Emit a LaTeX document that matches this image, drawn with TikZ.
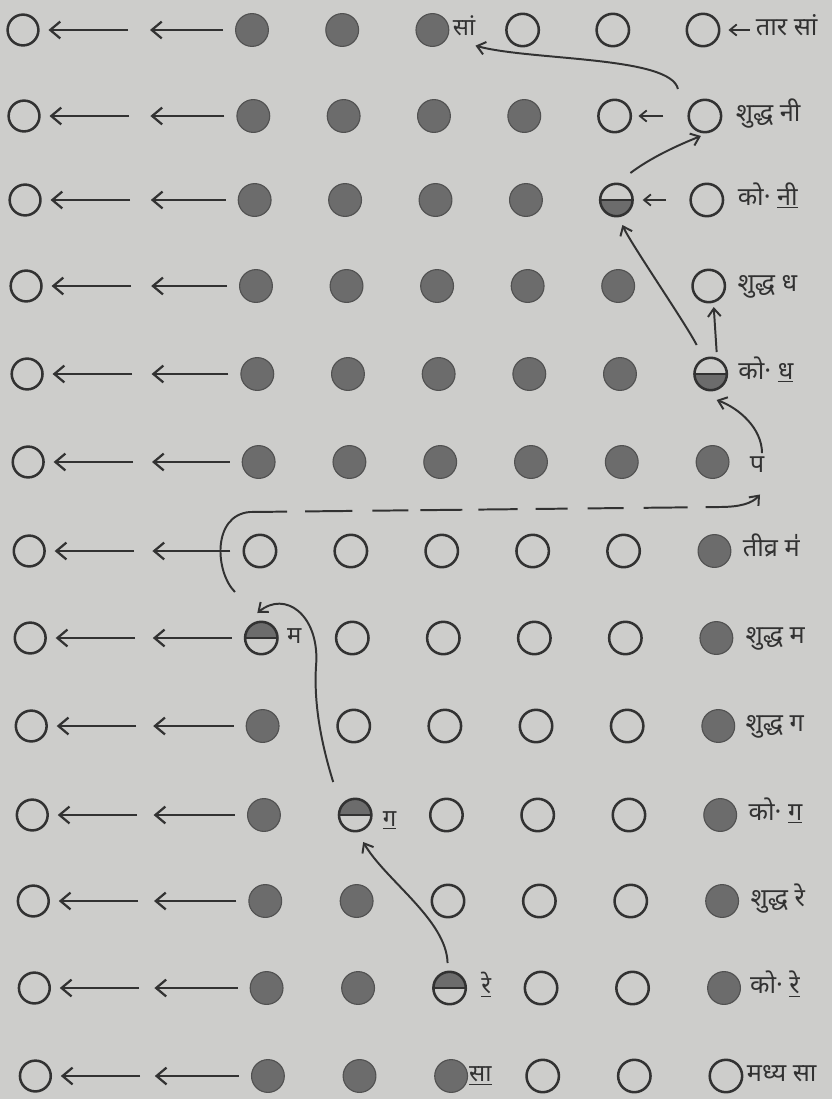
\documentclass[tikz,border=0pt]{standalone}
\usepackage{fontspec}
\newfontfamily\deva[Script=Devanagari]{Noto Sans}
\usetikzlibrary{arrows.meta, positioning, calc}
\definecolor{paper}{RGB}{205,205,203}
\definecolor{ink}{RGB}{50,50,50}
\definecolor{dotgray}{RGB}{108,108,108}

\begin{document}
\begin{tikzpicture}[
  x=0.025cm, y=-0.025cm,
  hole/.style={circle, draw=ink, line width=1.8pt, minimum size=0.81cm, inner sep=0pt},
  doto/.style={hole},
  dotf/.style={circle, draw=ink!85, fill=dotgray, line width=0.8pt, minimum size=0.82cm, inner sep=0pt},
  dotl/.style={hole, path picture={
      \fill[dotgray] (path picture bounding box.west) rectangle (path picture bounding box.south east);
      \draw[ink, line width=1pt] (path picture bounding box.west) -- (path picture bounding box.east);}},
  dotu/.style={hole, path picture={
      \fill[dotgray] (path picture bounding box.north west) rectangle (path picture bounding box.east);
      \draw[ink, line width=1.2pt] (path picture bounding box.west) -- (path picture bounding box.east);}},
  lbl/.style={font=\deva\fontsize{18}{21}\selectfont, text=ink, inner sep=0pt,
    text height=0.4cm, text depth=0.12cm},
  inlbl/.style={lbl, font=\deva\fontsize{17}{20}\selectfont},
  longarr/.style={-{Straight Barb[length=0.25cm, width=0.42cm]}, draw=ink, line width=1.6pt},
  sarr/.style={-{Straight Barb[length=0.17cm, width=0.28cm]}, draw=ink, line width=1.3pt},
  curvarr/.style={-{Straight Barb[length=0.2cm, width=0.32cm]}, draw=ink, line width=1.4pt},
  dasharr/.style={curvarr, dash pattern=on 3.4cm off 0.45cm on 1.18cm off 0.5cm on 0.9cm off 0.3cm
    on 1.05cm off 0.4cm on 0.98cm off 0.45cm on 0.8cm off 0.5cm on 0.9cm off 0.5cm
    on 1.1cm off 0.45cm on 3cm off 0.5cm}
  ]
  \fill[paper] (0,0) rectangle (832,1099);
  \useasboundingbox (0,0) rectangle (832,1099);

  % thirteen rows of holes: f filled, o open, l/u half filled
  \foreach \r/\y/\st in {1/30/{f,f,f,o,o,o}, 2/116/{f,f,f,f,o,o}, 3/200/{f,f,f,f,l,o},
      4/286/{f,f,f,f,f,o}, 5/374/{f,f,f,f,f,l}, 6/462/{f,f,f,f,f,f}, 7/551/{o,o,o,o,o,f},
      8/638/{u,o,o,o,o,f}, 9/726/{f,o,o,o,o,f}, 10/815/{f,u,o,o,o,f}, 11/901/{f,f,o,o,o,f},
      12/988/{f,f,u,o,o,f}, 13/1076/{f,f,f,o,o,o}}{
    \pgfmathsetmacro\k{\r-1}
    \node[doto, minimum size=0.77cm] (c\r-0) at ({23+1.03*\k},\y) {};
    \foreach \s [count=\c] in \st {
      \pgfmathsetmacro\xx{(252+90.2*(\c-1))*(1+0.0013*\k)+\k}
      \node[dot\s] (c\r-\c) at (\xx,\y) {};
    }
    \coordinate (t\r) at ({128+\k},\y);
    \coordinate (h\r) at ({150+0.4*\k},\y);
    \draw[longarr, shorten >=0.22cm] (t\r) -- (c\r-0);
    \draw[longarr, shorten <=0.3cm] (c\r-1) -- (h\r);
  }

  % names of the notes
  \node[lbl, right=0.88cm of c1-6] (lb1) {तार सां};
  \node[lbl, right=0.33cm of c2-6] (lb2) {शुद्ध नी};
  \node[lbl, right=0.33cm of c3-6] (lb3) {को· \underline{नी}};
  \node[lbl, right=0.28cm of c4-6] (lb4) {शुद्ध ध};
  \node[lbl, right=0.25cm of c5-6] (lb5) {को· \underline{ध}};
  \node[lbl, right=0.5cm of c6-6, yshift=-0.12cm] (lb6) {प};
  \node[lbl, right=0.28cm of c7-6] (lb7) {तीव्र म॑};
  \node[lbl, right=0.3cm of c8-6] (lb8) {शुद्ध म};
  \node[lbl, right=0.25cm of c9-6] (lb9) {शुद्ध ग};
  \node[lbl, right=0.28cm of c10-6] (lb10) {को· \underline{ग}};
  \node[lbl, right=0.28cm of c11-6] (lb11) {शुद्ध रे};
  \node[lbl, right=0.22cm of c12-6] (lb12) {को· \underline{रे}};
  \node[lbl, right=0.08cm of c13-6] (lb13) {मध्य सा};

  \node[inlbl, right=0.08cm of c1-3] (sa) {सां};
  \node[inlbl, right=0.2cm of c8-1] (ma) {म};
  \node[inlbl, right=0.25cm of c10-2, yshift=-0.15cm] (ga) {\underline{ग}};
  \node[inlbl, right=0.35cm of c12-3] (re) {\underline{रे}};
  \node[inlbl, right=0.02cm of c13-3] (sm) {\underline{सा}};

  % short arrows
  \draw[sarr, shorten <=0.15cm, shorten >=0.2cm] (lb1.west) -- (c1-6.east);
  \draw[sarr, shorten <=0.6cm, shorten >=0.16cm] (c2-6.west) -- (c2-5.east);
  \draw[sarr, shorten <=0.58cm, shorten >=0.22cm] (c3-6.west) -- (c3-5.east);

  % moves between the holes
  \draw[curvarr] ($(c2-6)+(-27,-27)$) .. controls +(-7,-33) and +(55,15) .. ($(sa.south east)+(0,5)$);
  \draw[curvarr] ($(c3-5)+(14,-27)$) .. controls +(20,-15) and +(-25,10) .. ($(c2-6)+(-4,20)$);
  \draw[curvarr] ($(c5-6)+(-14,-29)$) .. controls +(-10,-20) and +(8,18) .. ($(c3-5)+(6,25)$);
  \draw[curvarr] ($(c5-6)+(6,-22)$) -- ($(c4-6)+(5,21)$);
  \draw[curvarr] ($(lb6.north)+(5,-3)$) .. controls +(0,-25) and +(22,8) .. ($(c5-6)+(6,26)$);
  \coordinate (d0) at ($(c7-1)+(-25,41)$);
  \draw[dasharr] (d0) .. controls +(-20,-20) and +(-38,3) .. ($(c7-1)+(-10,-39)$)
    -- ($(c6-6)+(7,45)$) .. controls +(20,0) and +(-8,9) .. ($(lb6.south)+(3,17)$);
  \draw[curvarr] ($(c10-2)+(-22,-33)$) .. controls +(-13,-42) and +(-3,38) .. ($(c8-1)+(55,24)$)
    .. controls +(2,-47) and +(28,-23) .. ($(c8-1)+(-4,-25)$);
  \draw[curvarr] ($(c12-3)+(-2,-25)$) .. controls +(-1,-43) and +(22,38) .. ($(c10-2)+(8,27)$);
\end{tikzpicture}
\end{document}
